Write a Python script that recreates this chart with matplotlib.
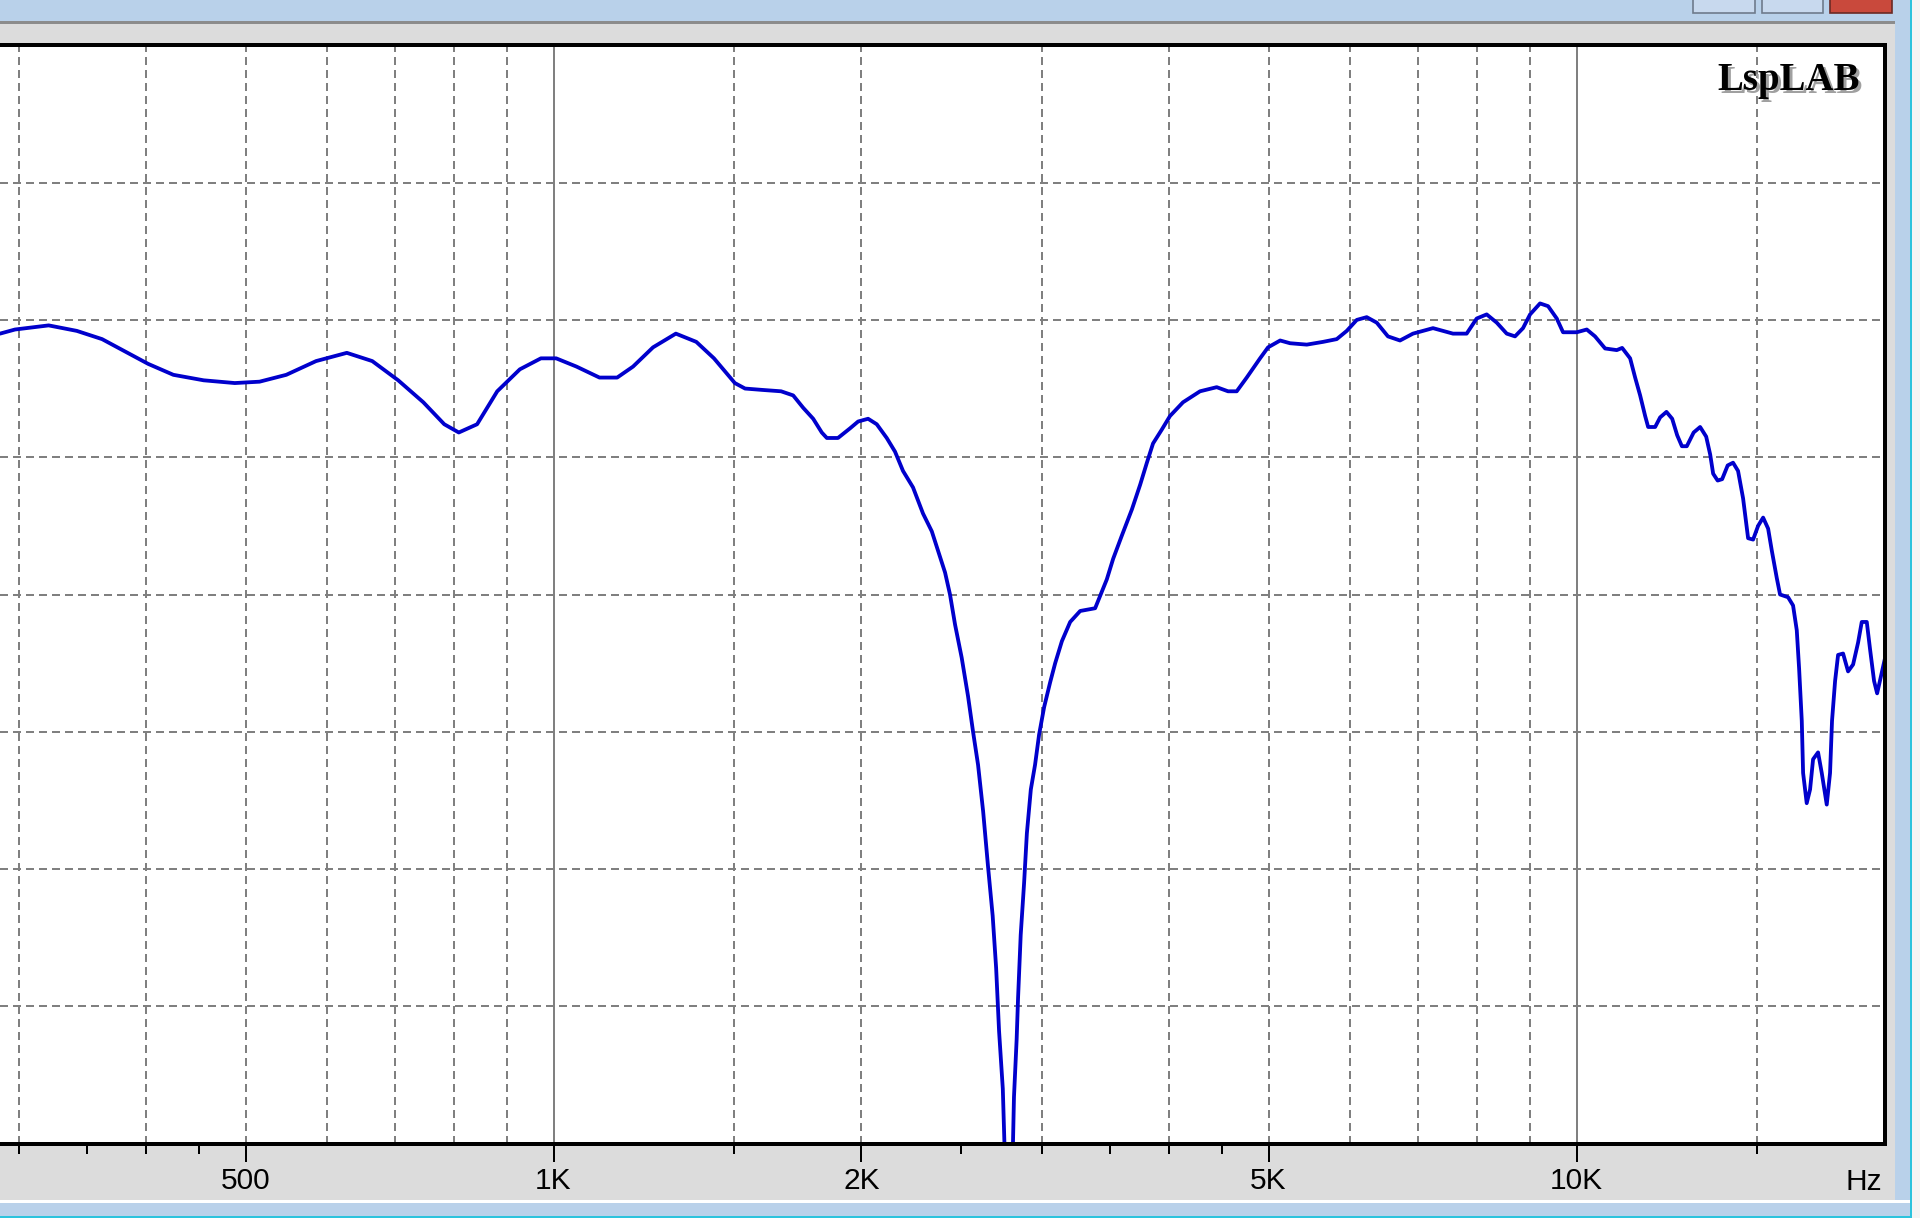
import matplotlib
matplotlib.use("Agg")
import matplotlib.pyplot as plt
from matplotlib.patches import Rectangle
from matplotlib import font_manager

# ---------------- data ----------------
freq_hz = [287.7, 297.6, 321, 342, 362, 379, 401.5, 425, 455, 488, 516, 548, 586, 628, 665,
           705, 746, 782, 808, 842, 881, 927, 972, 1006, 1053, 1109, 1154, 1196, 1251, 1317,
           1379, 1435, 1504, 1539, 1600, 1669, 1715, 1754, 1794, 1829, 1850, 1897, 1949, 1985,
           2030, 2070, 2117, 2157, 2196, 2246, 2297, 2343, 2376, 2414, 2441, 2469, 2506, 2542,
           2571, 2600, 2630, 2659, 2687, 2708, 2726, 2749, 2790, 2819, 2836, 2845, 2862, 2884,
           2902, 2928, 2956, 2983, 3017, 3058, 3093, 3140, 3199, 3272, 3384, 3435, 3474, 3524,
           3594, 3676, 3745, 3802, 3855, 3931, 4005, 4124, 4285, 4449, 4564, 4654, 4760, 4905,
           4994, 5132, 5248, 5449, 5652, 5829, 5962, 6098, 6236, 6378, 6541, 6721, 6920, 7239,
           7572, 7809, 7987, 8169, 8356, 8546, 8707, 8865, 9007, 9211, 9380, 9565, 9701, 10005,
           10233, 10425, 10664, 10948, 11081, 11282, 11410, 11539, 11670, 11749, 11935, 12070,
           12243, 12402, 12542, 12676, 12817, 13016, 13207, 13388, 13509, 13600, 13738, 13878,
           14052, 14223, 14384, 14548, 14713, 14880, 15048, 15219, 15391, 15519, 15694, 15810,
           16098, 16280, 16416, 16503, 16602, 16652, 16788, 16915, 17030, 17222, 17366, 17562,
           17693, 17772, 17895, 18016, 18220, 18426, 18635, 18846, 19002, 19218, 19361, 19536,
           19671, 19835, 20028]
spl_db = [89.5, 89.65, 89.8, 89.6, 89.3, 88.9, 88.4, 88.0, 87.8, 87.7, 87.75, 88.0, 88.5, 88.8, 88.5,
          87.8, 87.0, 86.2, 85.9, 86.2, 87.4, 88.2, 88.6, 88.6, 88.3, 87.9, 87.9, 88.3, 89.0, 89.5,
          89.2, 88.6, 87.7, 87.5, 87.45, 87.4, 87.25, 86.8, 86.4, 85.9, 85.7, 85.7, 86.05, 86.3,
          86.4, 86.2, 85.7, 85.2, 84.5, 83.9, 82.95, 82.3, 81.6, 80.8, 80.0, 78.9, 77.7, 76.3,
          75.0, 73.8, 72.1, 70.1, 68.3, 66.4, 64.1, 62.0, 54.0, 61.7, 63.8, 65.3, 67.6, 69.5,
          71.3, 72.9, 73.8, 74.9, 75.9, 76.8, 77.5, 78.3, 79.0, 79.4, 79.5, 80.1, 80.55, 81.3,
          82.15, 83.1, 84.0, 84.8, 85.5, 86.0, 86.5, 87.0, 87.4, 87.55, 87.4, 87.4, 87.9, 88.6,
          89.0, 89.25, 89.15, 89.1, 89.2, 89.3, 89.6, 90.0, 90.1, 89.9, 89.4, 89.25, 89.5, 89.7,
          89.5, 89.5, 90.05, 90.2, 89.9, 89.5, 89.4, 89.7, 90.2, 90.6, 90.5, 90.05, 89.55, 89.55,
          89.65, 89.4, 88.96, 88.9, 88.98, 88.6, 87.9, 87.25, 86.5, 86.1, 86.1, 86.45,
          86.65, 86.4, 85.8, 85.4, 85.4, 85.9, 86.1, 85.75, 85.1, 84.4, 84.15, 84.2,
          84.7, 84.8, 84.5, 83.5, 82.05, 82.0, 82.5, 82.8, 82.4, 81.6, 80.6, 80.0,
          79.9, 79.6, 78.7, 77.3, 75.4, 73.5, 72.4, 72.9, 74.0, 74.25, 73.5, 72.35,
          73.5, 75.4, 76.85, 77.8, 77.85, 77.2, 77.45, 78.25, 79.0, 79.0, 78.0, 76.85,
          76.4, 77.0, 77.7]

major_ticks = [500, 1000, 2000, 5000, 10000]
major_labels = ["500", "1K", "2K", "5K", "10K"]
minor_ticks = [300, 350, 400, 450, 1500, 2500, 3000, 3500, 4000, 4500, 15000]
grid_dashed_x = [300, 400, 500, 600, 700, 800, 900, 1500, 2000, 3000, 4000,
                 5000, 6000, 7000, 8000, 9000, 15000]
grid_solid_x = [1000, 10000]
grid_y = [65, 70, 75, 80, 85, 90, 95]
x_range = (287.7, 20000)
y_range = (60, 100)
unit_label = "Hz"
brand = "LspLAB"

# ---------------- figure ----------------
W, H = 1920, 1218
DPI = 100
PX = 72.0 / DPI  # points per pixel
plt.rcParams["lines.scale_dashes"] = False

names = {f.name for f in font_manager.fontManager.ttflist}
label_font = "Liberation Sans Narrow" if "Liberation Sans Narrow" in names else "Liberation Sans"
label_size = 23 if label_font == "Liberation Sans Narrow" else 21.5

fig = plt.figure(figsize=(W / DPI, H / DPI), dpi=DPI, facecolor="#DCDCDC")


def px_rect(x, y, w, h, color, ec="none", lw=0, z=0):
    r = Rectangle((x / W, 1 - (y + h) / H), w / W, h / H, transform=fig.transFigure,
                  facecolor=color, edgecolor=ec, linewidth=lw, zorder=z)
    fig.add_artist(r)


# window chrome
px_rect(0, 0, 1920, 21, "#B9D1EA")
px_rect(0, 21, 1895, 3, "#8C8C8C")
px_rect(1895, 0, 15, 1218, "#B9D1EA")
px_rect(1910, 0, 2, 1218, "#2CC3DD")
px_rect(1912, 0, 8, 1218, "#F4F4F4")
px_rect(0, 1200, 1910, 3, "#FFFFFF")
px_rect(0, 1203, 1910, 13, "#B9D1EA")
px_rect(0, 1216, 1912, 2, "#2CC3DD")
px_rect(1693, -2, 62, 15, "#C8D9EE", ec="#6F7B8C", lw=1.2)
px_rect(1762, -2, 61, 15, "#C8D9EE", ec="#6F7B8C", lw=1.2)
px_rect(1830, -2, 62, 15, "#C9493C", ec="#6B2A25", lw=1.2)

ax_left, ax_right = 0.0, 1884.5
ax_top, ax_bottom = 45.3, 1143.7
ax = fig.add_axes([ax_left / W, 1 - ax_bottom / H, (ax_right - ax_left) / W,
                   (ax_bottom - ax_top) / H])
ax.set_facecolor("white")
ax.set_xscale("log")
ax.set_xlim(*x_range)
ax.set_ylim(*y_range)

dash = (0, (8 * PX, 5 * PX))
for gx in grid_dashed_x:
    ax.axvline(gx, color="#808080", lw=2 * PX, linestyle=dash, zorder=1)
for gx in grid_solid_x:
    ax.axvline(gx, color="#808080", lw=2 * PX, zorder=1)
for gy in grid_y:
    ax.axhline(gy, color="#808080", lw=2 * PX, linestyle=dash, zorder=1)

ax.plot(freq_hz, spl_db, color="#0000CC", lw=3.8 * PX, zorder=3,
        solid_joinstyle="round", solid_capstyle="round")

for side in ("top", "right", "bottom"):
    ax.spines[side].set_linewidth(4 * PX)
    ax.spines[side].set_color("black")
    ax.spines[side].set_zorder(5)
ax.spines["left"].set_visible(False)

ax.set_xticks(major_ticks)
ax.set_xticklabels(major_labels)
ax.set_xticks(minor_ticks, minor=True)
ax.xaxis.set_minor_formatter(matplotlib.ticker.NullFormatter())
ax.set_yticks([])
ax.tick_params(axis="x", which="major", direction="out", length=18 * PX, width=2 * PX,
               color="black", pad=5 * PX, labelsize=label_size)
ax.tick_params(axis="x", which="minor", direction="out", length=10 * PX, width=2 * PX,
               color="black")
for lab in ax.get_xticklabels():
    lab.set_fontfamily(label_font)
    lab.set_color("black")

fig.text(1882 / W, 1 - 1190 / H, unit_label, ha="right", va="baseline",
         fontsize=label_size, family=label_font, color="black")

# brand mark with drop shadow
fig.text(1863 / W, 1 - 93 / H, brand, ha="right", va="baseline", fontsize=28,
         family="Liberation Serif", weight="bold", color="#A0A0A0", zorder=6)
fig.text(1860 / W, 1 - 90 / H, brand, ha="right", va="baseline", fontsize=28,
         family="Liberation Serif", weight="bold", color="black", zorder=7)

fig.savefig("out.png", dpi=DPI, facecolor=fig.get_facecolor())
